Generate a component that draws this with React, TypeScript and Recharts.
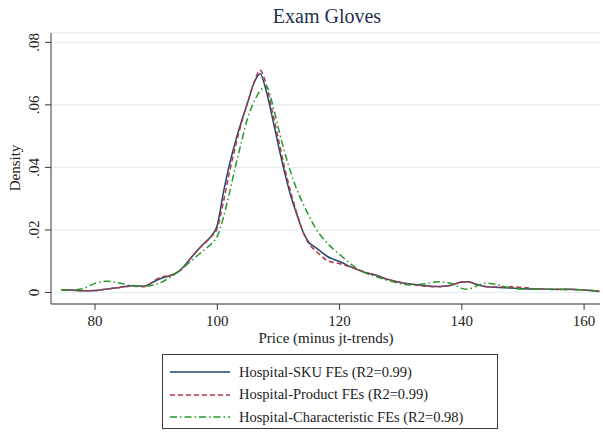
import { CartesianGrid, Line, LineChart, XAxis, YAxis } from "recharts";

const xVals = [
  74.5, 76, 78, 80, 82, 84, 86, 88, 90, 91, 92, 93, 94, 95, 96, 97, 98, 99, 100, 101, 102, 103, 104, 105,
  106, 107, 108, 109, 110, 111, 112, 113, 114, 115, 116, 117, 118, 119, 120, 122, 124, 126, 128, 130, 132,
  134, 136, 138, 139, 140, 141, 142, 143, 144, 146, 148, 150, 152, 154, 156, 158, 160, 162.5,
];

const skuFE = [
  0.0008, 0.0008, 0.0005, 0.0006, 0.0011, 0.0016, 0.0021, 0.002, 0.0038, 0.0046, 0.0052, 0.0059, 0.0072,
  0.0094, 0.0118, 0.014, 0.016, 0.018, 0.0215, 0.032, 0.041, 0.0485, 0.055, 0.061, 0.067, 0.07, 0.0645,
  0.056, 0.047, 0.0385, 0.031, 0.025, 0.0195, 0.016, 0.0145, 0.013, 0.0115, 0.0106, 0.0099, 0.008, 0.0065,
  0.0055, 0.0041, 0.0032, 0.0026, 0.0021, 0.0019, 0.0022, 0.0028, 0.0033, 0.0034, 0.0028, 0.0022, 0.0018,
  0.0016, 0.0014, 0.0012, 0.0011, 0.001, 0.001, 0.001, 0.0008, 0.0003,
];

const productFE = [
  0.0008, 0.0008, 0.0005, 0.0006, 0.0011, 0.0016, 0.002, 0.0018, 0.0042, 0.005, 0.0053, 0.0059, 0.0071,
  0.0092, 0.0117, 0.014, 0.0158, 0.0178, 0.0205, 0.029, 0.0385, 0.047, 0.0545, 0.061, 0.0672, 0.0711,
  0.0665, 0.058, 0.049, 0.04, 0.0322, 0.0255, 0.0195, 0.0155, 0.0135, 0.0117, 0.0102, 0.0096, 0.0092,
  0.008, 0.0066, 0.0054, 0.0041, 0.0032, 0.0025, 0.002, 0.0018, 0.0022, 0.0028, 0.0033, 0.0034, 0.0029,
  0.0023, 0.0019, 0.0017, 0.0018, 0.0016, 0.0012, 0.001, 0.0009, 0.0009, 0.0008, 0.0004,
];

const charFE = [
  0.0008, 0.0008, 0.0012, 0.0029, 0.0036, 0.003, 0.0022, 0.002, 0.0026, 0.0034, 0.0045, 0.0058, 0.0073,
  0.0089, 0.0105, 0.0122, 0.0138, 0.0155, 0.018, 0.024, 0.032, 0.0405, 0.0485, 0.056, 0.061, 0.0645, 0.066,
  0.0605, 0.0525, 0.045, 0.0385, 0.033, 0.0285, 0.0245, 0.0208, 0.018, 0.0158, 0.0138, 0.0122, 0.0088,
  0.0064, 0.005, 0.0038, 0.0028, 0.0024, 0.0028, 0.0034, 0.003, 0.0022, 0.0013, 0.001, 0.0017, 0.0025,
  0.003, 0.0024, 0.0014, 0.0011, 0.001, 0.001, 0.0009, 0.0009, 0.0008, 0.0003,
];

const xTicks = [80, 100, 120, 140, 160];
const yTicks = [0, 0.02, 0.04, 0.06, 0.08];
const yTickLabels = ["0", ".02", ".04", ".06", ".08"];

const seriesNames = [
  "Hospital-SKU FEs (R2=0.99)",
  "Hospital-Product FEs (R2=0.99)",
  "Hospital-Characteristic FEs (R2=0.98)",
];

const data = xVals.map((x, i) => ({ x, sku: skuFE[i], product: productFE[i], charact: charFE[i] }));

const FONT = "'Liberation Serif', 'DejaVu Serif', serif";
const BLUE = "#24466f";
const RED = "#b23a44";
const GREEN = "#24992a";
const AXIS = "#3a3a3a";

function XTick(props: any) {
  const { x, payload } = props;
  return (
    <text x={x} y={326} textAnchor="middle" fontFamily={FONT} fontSize={15} fill="#222">
      {payload.value}
    </text>
  );
}

function YTick(props: any) {
  const { y, payload } = props;
  const idx = yTicks.indexOf(payload.value);
  return (
    <text
      x={39}
      y={y}
      textAnchor="middle"
      fontFamily={FONT}
      fontSize={15}
      fill="#222"
      transform={`rotate(-90, 39, ${y})`}
    >
      {yTickLabels[idx]}
    </text>
  );
}

const legendDash = ["", "5 3", "7 3 1.5 3"];
const legendColor = [BLUE, RED, GREEN];

export default function App() {
  return (
    <div style={{ position: "absolute", left: 0, top: 0, width: 603, height: 433, background: "#fff" }}>
      <div
        style={{
          position: "absolute",
          left: 0,
          width: 654,
          top: 5,
          textAlign: "center",
          fontFamily: FONT,
          fontSize: 20,
          color: "#1f2f50",
        }}
      >
        Exam Gloves
      </div>
      <LineChart width={603} height={433} data={data} margin={{ top: 33, right: 3, left: 0, bottom: 79 }}>
        <CartesianGrid vertical={false} stroke="#e8f0f2" strokeWidth={1.5} />
        <XAxis
          dataKey="x"
          type="number"
          domain={[72.8, 162.6]}
          ticks={xTicks}
          allowDataOverflow
          height={50}
          stroke={AXIS}
          tickLine={{ stroke: AXIS }}
          tickSize={6}
          tick={<XTick />}
        />
        <YAxis
          type="number"
          domain={[-0.0037, 0.083]}
          ticks={yTicks}
          allowDataOverflow
          width={51}
          stroke={AXIS}
          tickLine={{ stroke: AXIS }}
          tickSize={6}
          tick={<YTick />}
        />
        <Line dataKey="sku" type="monotone" stroke={BLUE} strokeWidth={1.5} dot={false} isAnimationActive={false} />
        <Line
          dataKey="product"
          type="monotone"
          stroke={RED}
          strokeWidth={1.5}
          strokeDasharray="5 3"
          dot={false}
          isAnimationActive={false}
        />
        <Line
          dataKey="charact"
          type="monotone"
          stroke={GREEN}
          strokeWidth={1.5}
          strokeDasharray="7 3 1.5 3"
          dot={false}
          isAnimationActive={false}
        />
        <text x={20} y={168} textAnchor="middle" fontFamily={FONT} fontSize={15} fill="#222" transform="rotate(-90, 20, 168)">
          Density
        </text>
        <text x={326} y={343} textAnchor="middle" fontFamily={FONT} fontSize={15} fill="#222">
          Price (minus jt-trends)
        </text>
      </LineChart>
      <div
        style={{
          position: "absolute",
          left: 162,
          top: 354,
          width: 334,
          height: 73,
          border: `1px solid ${AXIS}`,
          fontFamily: FONT,
          fontSize: 14.5,
          color: "#222",
        }}
      >
        {seriesNames.map((name, i) => (
          <div key={name} style={{ position: "absolute", left: 0, top: 7 + i * 22.5, height: 20, display: "flex", alignItems: "center" }}>
            <svg width={76} height={20} style={{ display: "block" }}>
              <line x1={7} x2={67} y1={10} y2={10} stroke={legendColor[i]} strokeWidth={1.5} strokeDasharray={legendDash[i]} />
            </svg>
            <span style={{ whiteSpace: "nowrap" }}>{name}</span>
          </div>
        ))}
      </div>
    </div>
  );
}
